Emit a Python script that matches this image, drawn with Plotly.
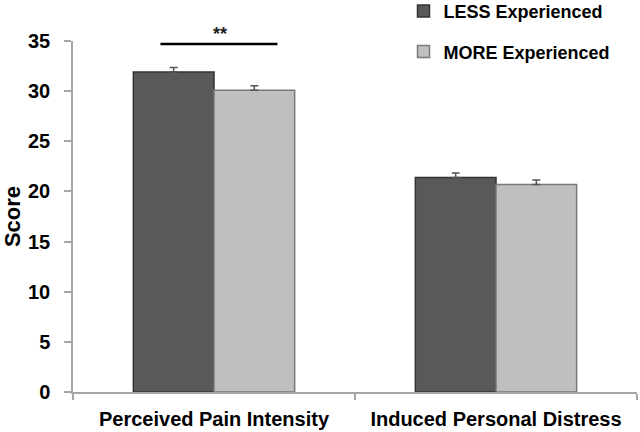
import plotly.graph_objects as go

categories = ["Perceived Pain Intensity", "Induced Personal Distress"]
series_names = ["LESS Experienced", "MORE Experienced"]
less_values = [31.9, 21.4]
less_errors = [0.45, 0.45]
more_values = [30.1, 20.7]
more_errors = [0.45, 0.45]
no_errors = [0, 0]
y_ticks = [0, 5, 10, 15, 20, 25, 30, 35]

FONT = "Liberation Sans, Arial, sans-serif"

fig = go.Figure()
fig.add_trace(go.Bar(
    x=categories, y=less_values, name=series_names[0], legendgroup="a",
    marker=dict(color="#595959", line=dict(color="#333333", width=1.5)),
    error_y=dict(type="data", symmetric=False, array=less_errors, arrayminus=no_errors,
                 color="#555555", thickness=1.5, width=4),
))
fig.add_trace(go.Bar(
    x=categories, y=more_values, name=series_names[1], legendgroup="b",
    marker=dict(color="#bfbfbf", line=dict(color="#7a7a7a", width=1.5)),
    error_y=dict(type="data", symmetric=False, array=more_errors, arrayminus=no_errors,
                 color="#555555", thickness=1.5, width=4),
))

# significance marker
fig.add_shape(type="line", xref="x", yref="y", x0=-0.19, x1=0.225, y0=34.7, y1=34.7,
              line=dict(color="black", width=2.5))
fig.add_annotation(x=0.023, y=1.055, xref="x", yref="y domain", text="<b>**</b>", showarrow=False,
                   font=dict(family=FONT, size=18, color="#222222"))

fig.update_layout(
    width=640, height=432,
    margin=dict(l=73, r=3, t=41, b=40, autoexpand=False),
    paper_bgcolor="white", plot_bgcolor="white",
    barmode="group", bargap=0.428, bargroupgap=0,
    font=dict(family=FONT, color="black"),
    showlegend=True,
    legend=dict(x=0.586, y=1.137, xref="paper", yref="paper", xanchor="left", yanchor="top",
                bgcolor="rgba(0,0,0,0)", tracegroupgap=14,
                font=dict(family=FONT, size=18, color="black", weight="bold")),
    yaxis=dict(range=[0, 35], tickvals=y_ticks, showgrid=False, zeroline=False,
               showline=True, linecolor="#a6a6a6", linewidth=1.5,
               ticks="outside", ticklen=7, tickcolor="#a6a6a6", tickwidth=1.5,
               ticklabelstandoff=10,
               tickfont=dict(family=FONT, size=20, color="black", weight="bold"),
               title=dict(text="Score", standoff=6,
                          font=dict(family=FONT, size=22, color="black", weight="bold"))),
    xaxis=dict(showgrid=False, zeroline=False, showline=True, linecolor="#a6a6a6", linewidth=1.5,
               ticks="outside", tickson="boundaries", ticklen=6, tickcolor="#a6a6a6", tickwidth=1.5,
               ticklabelstandoff=8,
               tickfont=dict(family=FONT, size=20, color="black", weight="bold")),
)

fig.write_html("out.html", config={"displayModeBar": False},
               post_script="document.body.style.margin='0';")
